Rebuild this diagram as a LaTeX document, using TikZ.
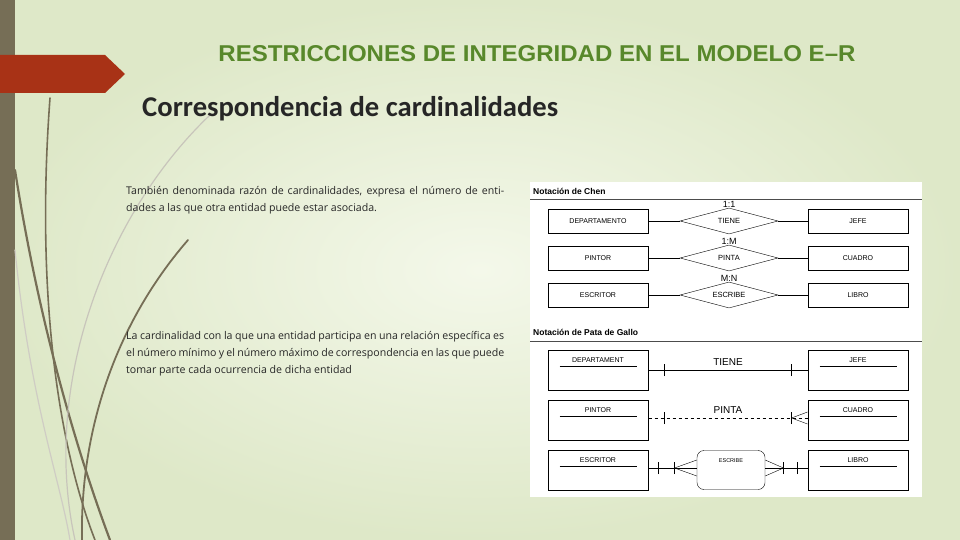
\documentclass[tikz,border=0pt]{standalone}
\usepackage{fontspec}
\setmainfont{Carlito}
\newfontfamily\diag{Liberation Sans}
\newfontfamily\bodyfont{Open Sans}
\usetikzlibrary{shapes.geometric,positioning}
\definecolor{barcol}{RGB}{118,110,86}
\definecolor{redban}{RGB}{168,50,22}
\definecolor{titgreen}{RGB}{104,160,50}
\definecolor{bgpale}{RGB}{244,248,234}
\definecolor{bgdark}{RGB}{222,232,200}
\tikzset{
  ent/.style={draw, line width=1pt, minimum width=100pt, minimum height=24pt, inner sep=0pt, font=\diag\fontsize{7}{8}\selectfont},
  rel/.style={draw, diamond, aspect=3.6, minimum width=98pt, minimum height=26pt, inner sep=0pt, font=\diag\fontsize{7.5}{8}\selectfont},
  bigent/.style={draw, line width=1pt, minimum width=100pt, minimum height=40pt, inner sep=0pt},
  elabel/.style={font=\diag\fontsize{7}{8}\selectfont},
  card/.style={font=\diag\fontsize{9}{10}\selectfont, inner sep=0pt},
  stem/.style={line width=2.2pt, barcol, line cap=round},
  para/.style={anchor=north west, text width=378pt, align=justify, inner sep=0pt, font=\bodyfont\fontsize{10.6}{17}\selectfont, text=black!85},
}
\begin{document}
\begin{tikzpicture}[x=1pt,y=-1pt]
  \useasboundingbox (0,0) rectangle (960,540);
  % background
  \shade[inner color=bgpale, outer color=bgdark] (0,0) rectangle (960,540);
  \fill[barcol] (0,0) rectangle (15,540);
  % stems
  \draw[stem] (15,170) .. controls (40,330) and (80,460) .. (110,540);
  \draw[stem, line width=1.6pt] (50,98) .. controls (35,300) and (60,450) .. (95,540);
  \draw[stem, line width=1.8pt] (188,240) .. controls (110,330) and (80,440) .. (82,540);
  \draw[stem, line width=1.2pt, barcol!40] (210,115) .. controls (110,210) and (40,380) .. (75,540);
  \draw[stem, line width=1.2pt, barcol!35] (15,250) .. controls (30,400) and (60,480) .. (70,540);
  % banner
  \fill[redban] (0,55) -- (105,55) -- (125,74) -- (105,93) -- (0,93) -- cycle;
  % titles
  \node[inner sep=0pt, text=titgreen!85!black] (title) at (537,54)
    {\resizebox{637pt}{16pt}{\diag\bfseries RESTRICCIONES DE INTEGRIDAD EN EL MODELO E–R}};
  \node[inner sep=0pt, anchor=west, text=black!85] (sub) at (142,109)
    {\resizebox{416pt}{!}{\bfseries\fontsize{20}{22}\selectfont Correspondencia de cardinalidades}};
  \node[para] (p1) at (126,186) {\hyphenpenalty=10000 También denominada razón de cardinalidades, expresa el número de entidades a las que otra entidad puede estar asociada.};
  \node[para] (p2) at (126,331) {\hyphenpenalty=10000 La cardinalidad con la que una entidad participa en una relación específica es el número mínimo y el número máximo de correspondencia en las que puede tomar parte cada ocurrencia de dicha entidad};
  % figure panel
  \fill[white] (530,182) rectangle (922,497);
  \node[anchor=west, font=\diag\bfseries\fontsize{8.5}{9}\selectfont, inner sep=0pt] (chen) at (533,191) {Notación de Chen};
  \draw[line width=1pt, black!70] (530,199) -- (922,199);
  % Chen rows
  \node[ent] (dep) at (598,221) {DEPARTAMENTO};
  \node[ent] (jefe) at (858,221) {JEFE};
  \node[rel] (tiene) at (729,221) {TIENE};
  \node[card] at (729,204) {1:1};
  \node[ent] (pintor) at (598,258) {PINTOR};
  \node[ent] (cuadro) at (858,258) {CUADRO};
  \node[rel] (pinta) at (729,258) {PINTA};
  \node[card] at (729,241) {1:M};
  \node[ent] (escritor) at (598,295) {ESCRITOR};
  \node[ent] (libro) at (858,295) {LIBRO};
  \node[rel] (escribe) at (729,295) {ESCRIBE};
  \node[card] at (729,278) {M:N};
  \foreach \a/\r/\b in {dep/tiene/jefe, pintor/pinta/cuadro, escritor/escribe/libro} {
    \draw (\a) -- (\r);
    \draw (\r) -- (\b);
  }
  % crow's foot
  \node[anchor=west, font=\diag\bfseries\fontsize{8.5}{9}\selectfont, inner sep=0pt] (pata) at (533,332) {Notación de Pata de Gallo};
  \draw[line width=1pt, black!70] (530,341) -- (922,341);
  \node[bigent] (cdep) at (598,370) {};
  \node[bigent] (cjefe) at (858,370) {};
  \node[bigent] (cpintor) at (598,420) {};
  \node[bigent] (ccuadro) at (858,420) {};
  \node[bigent] (cescritor) at (598,470) {};
  \node[bigent] (clibro) at (858,470) {};
  \foreach \n/\t in {cdep/DEPARTAMENT, cjefe/JEFE, cpintor/PINTOR, ccuadro/CUADRO, cescritor/ESCRITOR, clibro/LIBRO} {
    \node[elabel, inner sep=0pt] at ([yshift=-11pt]\n.north) {\t};
    \draw ([xshift=12pt,yshift=-17pt]\n.north west) -- ([xshift=-12pt,yshift=-17pt]\n.north east);
  }
  % TIENE
  \draw (cdep.east) -- (cjefe.west) node[midway, above=1pt, font=\diag\fontsize{10}{11}\selectfont] {TIENE};
  \draw ([xshift=16pt,yshift=-6pt]cdep.east) -- ([xshift=16pt,yshift=6pt]cdep.east);
  \draw ([xshift=-16pt,yshift=-6pt]cjefe.west) -- ([xshift=-16pt,yshift=6pt]cjefe.west);
  % PINTA
  \coordinate (pl) at ([yshift=2pt]cpintor.east);
  \coordinate (pr) at ([yshift=2pt]ccuadro.west);
  \draw[dashed] (pl) -- (pr) node[midway, above=1pt, font=\diag\fontsize{10}{11}\selectfont] {PINTA};
  \draw ([xshift=16pt,yshift=-6pt]pl) -- ([xshift=16pt,yshift=6pt]pl);
  \draw ([xshift=-16pt,yshift=-6pt]pr) -- ([xshift=-16pt,yshift=6pt]pr);
  \draw ([xshift=-16pt]pr) -- ([yshift=-6pt]pr) ([xshift=-16pt]pr) -- ([yshift=6pt]pr);
  % ESCRIBE
  \node[draw, rounded corners=7pt, minimum width=68pt, minimum height=39pt, inner sep=0pt] (cesc) at (731,470) {};
  \node[font=\diag\fontsize{5.5}{6}\selectfont] at ([yshift=-10pt]cesc.north) {ESCRIBE};
  \coordinate (el) at ([yshift=2pt]cescritor.east);
  \coordinate (er) at ([yshift=2pt]clibro.west);
  \coordinate (ecl) at ([yshift=2pt]cesc.west);
  \coordinate (ecr) at ([yshift=2pt]cesc.east);
  \draw (el) -- (ecl);
  \draw (ecr) -- (er);
  \draw ([xshift=10pt,yshift=-6pt]el) -- ([xshift=10pt,yshift=6pt]el);
  \draw ([xshift=26pt,yshift=-6pt]el) -- ([xshift=26pt,yshift=6pt]el);
  \draw ([xshift=26pt]el) -- ([yshift=-8pt]ecl) ([xshift=26pt]el) -- ([yshift=8pt]ecl);
  \draw ([xshift=-10pt,yshift=-6pt]er) -- ([xshift=-10pt,yshift=6pt]er);
  \draw ([xshift=-24pt,yshift=-6pt]er) -- ([xshift=-24pt,yshift=6pt]er);
  \draw ([xshift=-24pt]er) -- ([yshift=-8pt]ecr) ([xshift=-24pt]er) -- ([yshift=8pt]ecr);
\end{tikzpicture}
\end{document}
